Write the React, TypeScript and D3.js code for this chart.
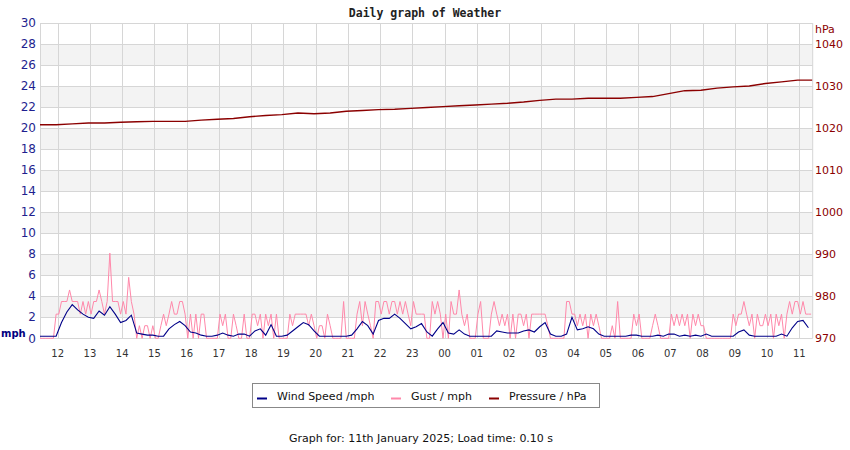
import React from "react";
import * as d3 from "d3";

// ---- data ----
const startTime = new Date(2025, 0, 10, 11, 27);
const spanMinutes = 1438;

const windStepMinutes = 10;
const windSpeed = [
  0.2, 0.2, 0.2, 0.2, 1.5, 2.5, 3.2, 2.7, 2.3, 2.0,
  1.9, 2.6, 2.2, 3.0, 2.3, 1.5, 1.7, 2.2, 0.5, 0.4,
  0.3, 0.3, 0.2, 0.2, 0.9, 1.3, 1.6, 1.2, 0.6, 0.5,
  0.3, 0.2, 0.2, 0.3, 0.5, 0.3, 0.2, 0.4, 0.4, 0.2,
  0.7, 0.9, 0.3, 1.3, 0.2, 0.2, 0.3, 0.7, 1.1, 1.5,
  1.3, 0.7, 0.2, 0.2, 0.2, 0.2, 0.2, 0.2, 0.3, 0.9,
  1.6, 1.2, 0.4, 1.7, 1.9, 1.9, 2.3, 1.9, 1.4, 0.9,
  1.1, 1.4, 0.6, 0.2, 0.9, 1.5, 0.5, 0.4, 0.8, 0.4,
  0.2, 0.2, 0.2, 0.2, 0.2, 0.7, 0.6, 0.5, 0.5, 0.5,
  0.7, 0.8, 0.6, 1.1, 1.5, 0.4, 0.2, 0.2, 0.4, 2.0,
  0.8, 0.9, 1.1, 0.9, 0.4, 0.2, 0.2, 0.2, 0.2, 0.2,
  0.3, 0.3, 0.2, 0.2, 0.2, 0.3, 0.2, 0.4, 0.4, 0.2,
  0.3, 0.2, 0.3, 0.2, 0.4, 0.2, 0.2, 0.2, 0.2, 0.2,
  0.6, 0.8, 0.3, 0.2, 0.2, 0.2, 0.2, 0.2, 0.4, 0.2,
  1.0, 1.6, 1.7, 1.0,
];

const gustStepMinutes = 5;
const gust = [
  0, 0, 0, 0, 0, 0, 2.3, 2.3, 3.5, 3.5,
  3.5, 4.6, 3.5, 3.5, 3.5, 2.3, 3.5, 2.3, 3.5, 2.3,
  3.5, 3.5, 4.6, 3.5, 2.3, 3.5, 8.1, 3.5, 3.5, 3.5,
  2.3, 3.5, 2.3, 5.8, 3.5, 2.3, 0, 1.2, 0, 1.2,
  1.2, 0, 1.2, 0, 0, 1.2, 2.3, 1.2, 2.3, 3.5,
  2.3, 2.3, 3.5, 3.5, 2.3, 0, 2.3, 0, 2.3, 0,
  2.3, 2.3, 0, 0, 0, 0, 0, 2.3, 1.2, 2.3,
  0, 0, 2.3, 1.2, 0, 0, 2.3, 0, 0, 2.3,
  2.3, 1.2, 2.3, 0, 2.3, 1.2, 2.3, 0, 2.3, 0,
  0, 0, 0, 2.3, 1.2, 2.3, 2.3, 2.3, 2.3, 2.3,
  1.2, 2.3, 1.2, 0, 1.2, 1.2, 0, 2.3, 1.2, 0,
  0, 0, 0, 3.5, 0, 0, 0, 0, 2.3, 3.5,
  1.2, 3.5, 2.3, 1.2, 0, 3.5, 3.5, 2.3, 3.5, 3.5,
  2.3, 3.5, 3.5, 2.3, 3.5, 2.3, 3.5, 2.3, 1.2, 3.5,
  2.3, 2.3, 2.3, 2.3, 0, 0, 3.5, 2.3, 3.5, 2.3,
  0, 2.3, 0, 3.5, 2.3, 2.3, 4.6, 2.3, 1.2, 2.3,
  0, 0, 0, 2.3, 3.5, 0, 0, 0, 2.3, 3.5,
  2.3, 1.2, 2.3, 1.2, 2.3, 0, 2.3, 0, 2.3, 2.3,
  1.2, 2.3, 0, 2.3, 2.3, 2.3, 2.3, 2.3, 2.3, 1.2,
  0, 0, 0, 0, 0, 0, 3.5, 3.5, 2.3, 2.3,
  1.2, 2.3, 1.2, 2.3, 0, 2.3, 1.2, 2.3, 1.2, 0,
  0, 0, 0, 1.2, 0, 3.5, 0, 0, 0, 0,
  0, 2.3, 1.2, 2.3, 0, 0, 0, 0, 1.2, 2.3,
  1.2, 0, 0, 0, 0, 2.3, 1.2, 2.3, 1.2, 2.3,
  1.2, 2.3, 0, 2.3, 1.2, 2.3, 1.2, 1.2, 0, 0,
  0, 0, 0, 0, 0, 0, 0, 0, 2.3, 1.2,
  2.3, 2.3, 3.5, 2.3, 1.2, 2.3, 0, 2.3, 1.2, 1.2,
  2.3, 1.2, 2.3, 0, 2.3, 1.2, 2.3, 0, 2.3, 3.5,
  2.3, 3.5, 3.5, 2.3, 3.5, 2.3, 2.3, 2.3,
];

const pressureStepMinutes = 30;
const pressure = [
  1020.8, 1020.8, 1021.0, 1021.2, 1021.2, 1021.4, 1021.5, 1021.6, 1021.6, 1021.6,
  1021.9, 1022.1, 1022.3, 1022.7, 1023.0, 1023.2, 1023.6, 1023.4, 1023.6, 1024.0,
  1024.2, 1024.4, 1024.5, 1024.7, 1024.9, 1025.1, 1025.3, 1025.5, 1025.7, 1025.9,
  1026.2, 1026.6, 1026.9, 1026.9, 1027.1, 1027.1, 1027.1, 1027.3, 1027.5, 1028.2,
  1028.9, 1029.0, 1029.5, 1029.8, 1030.0, 1030.6, 1031.0, 1031.4, 1031.4,
];

const mphTicks = [0, 2, 4, 6, 8, 10, 12, 14, 16, 18, 20, 22, 24, 26, 28, 30];
const hpaTicks = [970, 980, 990, 1000, 1010, 1020, 1030, 1040];

const titleText = "Daily graph of Weather";
const legendLabels = ["Wind Speed /mph", "Gust / mph", "Pressure / hPa"];
const footerText = "Graph for: 11th January 2025; Load time: 0.10 s";

// ---- layout ----
const W = 850;
const H = 450;
const plotLeft = 40;
const plotRight = 812.7;
const plotTop = 23;
const plotBottom = 338.3;

const windColor = "#000088";
const gustColor = "#ff88aa";
const pressureColor = "#8b0000";
const gridColor = "#d6d6d6";
const bandColor = "#f3f3f3";
const leftAxisColor = "#1f1f8f";

export default function App() {
  const x = d3
    .scaleTime()
    .domain([startTime, d3.timeMinute.offset(startTime, spanMinutes)])
    .range([plotLeft, plotRight]);
  const yL = d3.scaleLinear().domain([0, 30]).range([plotBottom, plotTop]);
  const yR = d3.scaleLinear().domain([970, 1045]).range([plotBottom, plotTop]);

  const t = (i: number, step: number) =>
    d3.timeMinute.offset(startTime, Math.min(i * step, spanMinutes - 1));

  const windLine = d3
    .line<number>()
    .x((_, i) => x(t(i, windStepMinutes)))
    .y((d) => yL(d));
  const gustLine = d3
    .line<number>()
    .x((_, i) => x(t(i, gustStepMinutes)))
    .y((d) => yL(d));
  const pressLine = d3
    .line<number>()
    .x((_, i) => x(t(i, pressureStepMinutes)))
    .y((d) => yR(d));

  const hours = x.ticks(d3.timeHour.every(1)!);
  const fmt = d3.timeFormat("%H");

  const bands = mphTicks.filter((v) => v % 4 === 2 && v < 30);

  const legendColors = [windColor, gustColor, pressureColor];
  const legendX = [257, 391, 489];

  return (
    <svg width={W} height={H} style={{ display: "block", position: "absolute", left: 0, top: 0 }}>
      <rect x={0} y={0} width={W} height={H} fill="#ffffff" />
      <text
        x={425}
        y={17}
        textAnchor="middle"
        fontFamily="DejaVu Sans Mono"
        fontWeight="bold"
        fontSize={11.5}
        fill="#222"
      >
        {titleText}
      </text>

      {bands.map((v) => (
        <rect
          key={"b" + v}
          x={plotLeft}
          y={yL(v + 2)}
          width={plotRight - plotLeft}
          height={yL(v) - yL(v + 2)}
          fill={bandColor}
        />
      ))}
      {mphTicks.map((v) => (
        <line
          key={"h" + v}
          x1={plotLeft}
          x2={plotRight}
          y1={Math.round(yL(v)) + 0.5}
          y2={Math.round(yL(v)) + 0.5}
          stroke={gridColor}
          strokeWidth={1}
        />
      ))}
      {hours.map((h) => (
        <line
          key={"v" + h.getTime()}
          x1={Math.round(x(h)) + 0.5}
          x2={Math.round(x(h)) + 0.5}
          y1={plotTop}
          y2={plotBottom}
          stroke={gridColor}
          strokeWidth={1}
        />
      ))}
      <line x1={plotLeft + 0.5} x2={plotLeft + 0.5} y1={plotTop} y2={plotBottom} stroke={gridColor} />
      <line x1={plotRight} x2={plotRight} y1={plotTop} y2={plotBottom} stroke={gridColor} />

      <path d={gustLine(gust) || ""} fill="none" stroke={gustColor} strokeWidth={1} />
      <path d={windLine(windSpeed) || ""} fill="none" stroke={windColor} strokeWidth={1.1} />
      <path d={pressLine(pressure) || ""} fill="none" stroke={pressureColor} strokeWidth={1.4} />

      {mphTicks.map((v) => (
        <text
          key={"lt" + v}
          x={36}
          y={yL(v)}
          dy="0.35em"
          textAnchor="end"
          fontFamily="DejaVu Sans"
          fontSize={12}
          fill={leftAxisColor}
        >
          {v}
        </text>
      ))}
      <text x={1} y={plotBottom - 5} dy="0.35em" fontFamily="DejaVu Sans" fontWeight="bold" fontSize={10} fill="#000080">
        mph
      </text>
      {hpaTicks.map((v) => (
        <text
          key={"rt" + v}
          x={815}
          y={yR(v)}
          dy="0.35em"
          fontFamily="DejaVu Sans"
          fontSize={11}
          fill={pressureColor}
        >
          {v}
        </text>
      ))}
      <text x={815} y={29} dy="0.35em" fontFamily="DejaVu Sans" fontSize={11} fill={pressureColor}>
        hPa
      </text>
      {hours.map((h) => (
        <text
          key={"xt" + h.getTime()}
          x={x(h)}
          y={353}
          dy="0.35em"
          textAnchor="middle"
          fontFamily="DejaVu Sans"
          fontSize={10}
          fill="#333"
        >
          {fmt(h)}
        </text>
      ))}

      <rect x={252.5} y={383.5} width={347} height={24} fill="#fff" stroke="#888" strokeWidth={1} />
      {legendLabels.map((lab, i) => (
        <g key={"lg" + i}>
          <line x1={legendX[i]} x2={legendX[i] + 10} y1={398.5} y2={398.5} stroke={legendColors[i]} strokeWidth={2} />
          <text x={legendX[i] + 20} y={396} dy="0.35em" fontFamily="DejaVu Sans" fontSize={11} fill="#111">
            {lab}
          </text>
        </g>
      ))}
      <text x={421} y={438} dy="0.35em" textAnchor="middle" fontFamily="DejaVu Sans" fontSize={11} fill="#111">
        {footerText}
      </text>
    </svg>
  );
}
